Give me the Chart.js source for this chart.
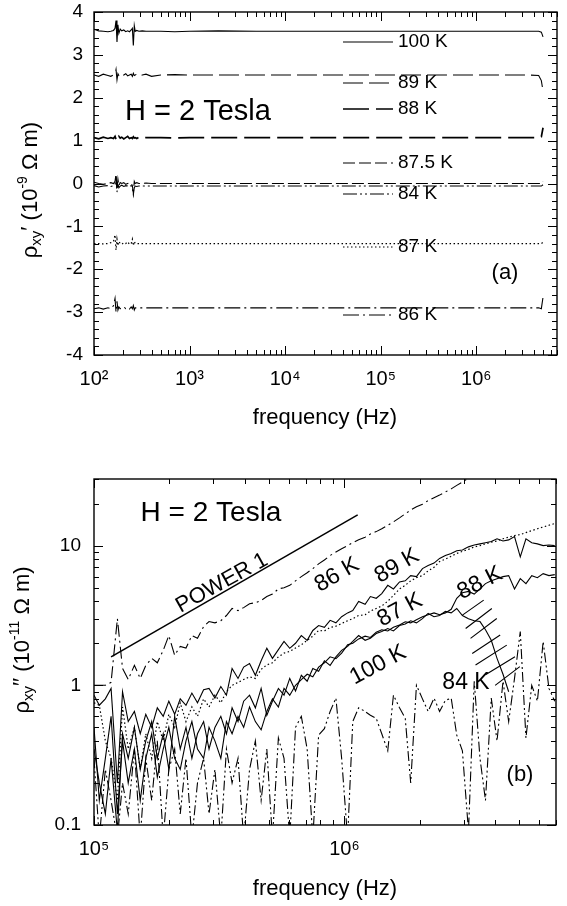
<!DOCTYPE html>
<html><head><meta charset="utf-8">
<script src="https://cdn.jsdelivr.net/npm/chart.js@4.4.1/dist/chart.umd.min.js"></script>
<style>
html,body{margin:0;padding:0;background:#fff;}
#wrap{position:relative;width:567px;height:906px;overflow:hidden;}
canvas{position:absolute;left:0;}
</style></head>
<body><div id="wrap">
<canvas id="ca" width="567" height="453" style="top:0"></canvas>
<canvas id="cb" width="567" height="453" style="top:453px"></canvas>
</div>
<script>
// ================= DATA: panel (a)  rho_xy' vs frequency =================
const seriesNamesA = ['100 K','89 K','88 K','87.5 K','84 K','87 K','86 K'];
const freqA = [100,112,125,140,150,160,166,170,174,178,182,188,195,205,215,225,235,245,252,258,
  264,270,280,295,320,350,400,500,700,1000,2000,5000,1e4,3e4,1e5,3e5,1e6,2e6,3.5e6,4.5e6,4.8e6,5.0e6];
const a100 = [3.60,3.56,3.55,3.54,3.55,3.57,3.62,3.80,3.30,3.70,3.50,3.60,3.56,3.58,3.54,3.56,3.54,3.58,3.62,3.22,
  3.68,3.55,3.57,3.55,3.56,3.55,3.55,3.55,3.54,3.55,3.56,3.55,3.55,3.55,3.55,3.55,3.55,3.55,3.55,3.55,3.53,3.42];
const a89 = [2.53,2.50,2.55,2.52,2.50,2.53,2.55,2.66,2.42,2.56,2.52,2.55,2.50,2.53,2.56,2.51,2.53,2.55,2.50,2.57,
  2.52,2.53,2.55,2.51,2.53,2.55,2.50,2.53,2.54,2.53,2.53,2.53,2.53,2.53,2.53,2.53,2.53,2.53,2.53,2.52,2.40,2.15];
const a88 = [1.07,1.04,1.08,1.05,1.07,1.05,1.10,1.03,1.09,1.05,1.10,1.06,1.08,1.04,1.07,1.10,1.05,1.07,1.05,1.09,
  1.06,1.07,1.05,1.08,1.06,1.07,1.07,1.07,1.06,1.07,1.07,1.07,1.07,1.07,1.07,1.07,1.07,1.07,1.07,1.07,1.09,1.30];
const a875 = [0.03,0.00,-0.02,0.00,0.02,0.00,0.05,0.22,-0.15,0.10,-0.05,0.02,0.00,0.02,-0.02,0.00,0.02,0.00,-0.05,-0.22,
  0.05,0.00,0.02,0.00,0.00,0.01,0.00,0.00,0.00,0.00,0.00,0.00,0.00,0.00,0.00,0.00,0.00,0.00,0.00,0.00,0.00,0.05];
const a84 = [-0.05,-0.08,-0.06,-0.05,-0.07,-0.05,-0.02,0.15,-0.20,0.00,-0.10,-0.06,-0.04,-0.07,-0.05,-0.06,-0.08,-0.05,-0.10,-0.26,
  -0.10,-0.06,-0.07,-0.06,-0.06,-0.06,-0.06,-0.06,-0.06,-0.06,-0.06,-0.06,-0.06,-0.06,-0.06,-0.06,-0.06,-0.06,-0.06,-0.06,-0.06,-0.03];
const a87 = [-1.40,-1.40,-1.41,-1.40,-1.38,-1.35,-1.20,-1.55,-1.30,-1.45,-1.35,-1.40,-1.42,-1.38,-1.40,-1.36,-1.42,-1.40,-1.30,-1.45,
  -1.35,-1.40,-1.40,-1.40,-1.40,-1.40,-1.40,-1.40,-1.40,-1.40,-1.40,-1.40,-1.40,-1.40,-1.40,-1.40,-1.40,-1.40,-1.40,-1.40,-1.40,-1.37];
const a86 = [-2.92,-2.90,-2.93,-2.90,-2.92,-2.85,-2.68,-3.00,-2.75,-2.95,-2.88,-2.92,-2.90,-2.88,-2.92,-2.90,-2.93,-2.88,-2.92,-2.85,
  -2.95,-2.90,-2.90,-2.90,-2.90,-2.90,-2.90,-2.90,-2.90,-2.90,-2.90,-2.90,-2.90,-2.90,-2.90,-2.90,-2.90,-2.90,-2.90,-2.90,-2.92,-2.65];
const xTickValsA = [1e2,1e3,1e4,1e5,1e6];
const xTickLabelsA = ['10\u00B2','10\u00B3','10\u2074','10\u2075','10\u2076'];
const yTickValsA = [-4,-3,-2,-1,0,1,2,3,4];
const yTickLabelsA = ['-4','-3','-2','-1','0','1','2','3','4'];

// ================= DATA: panel (b)  rho_xy'' vs frequency =================
const freqB = [1.00e5,1.05e5,1.11e5,1.17e5,1.24e5,1.30e5,1.37e5,1.45e5,1.53e5,1.61e5,
  1.70e5,1.79e5,1.89e5,1.99e5,2.10e5,2.21e5,2.33e5,2.46e5,2.59e5,2.74e5,
  2.88e5,3.04e5,3.21e5,3.38e5,3.56e5,3.76e5,3.96e5,4.18e5,4.41e5,4.65e5,
  4.90e5,5.16e5,5.45e5,5.74e5,6.05e5,6.38e5,6.73e5,7.10e5,7.48e5,7.89e5,
  8.32e5,8.77e5,9.25e5,9.75e5,1.03e6,1.08e6,1.14e6,1.21e6,1.27e6,1.34e6,
  1.41e6,1.49e6,1.57e6,1.66e6,1.75e6,1.84e6,1.94e6,2.05e6,2.16e6,2.28e6,
  2.40e6,2.53e6,2.67e6,2.81e6,2.96e6,3.13e6,3.30e6,3.48e6,3.66e6,3.86e6,
  4.07e6,4.30e6,4.53e6,4.78e6,5.04e6,5.31e6,5.60e6,5.90e6,6.22e6,6.56e6,6.92e6];
const b86 = [1.00,1.00,1.00,1.05,3.00,1.32,1.10,1.39,1.12,1.39,
  1.56,1.45,1.78,2.27,1.64,1.90,1.85,2.27,2.17,2.63,
  2.86,2.80,2.90,3.16,3.55,3.43,3.60,3.84,3.90,4.05,
  4.32,4.50,4.90,5.00,5.20,5.60,6.00,6.40,6.85,7.40,
  7.90,8.50,9.00,9.50,10.0,10.5,11.0,11.5,12.1,12.6,
  13.2,14.0,14.8,15.8,16.9,18.0,19.0,19.8,21.0,22.0,
  23.0,24.2,25.5,27.0,28.5,30.5,32.0,null,null,null,
  null,null,null,null,null,null,null,null,null,null,null];
const b89 = [0.85,0.72,0.80,0.95,0.20,0.90,0.55,0.65,0.45,0.62,
  0.50,0.69,0.60,0.77,0.62,0.80,0.72,0.88,0.75,0.93,
  0.95,0.81,0.98,0.85,1.32,1.12,1.35,1.43,1.18,1.50,
  1.84,1.56,1.80,2.06,1.84,2.00,2.27,2.10,2.47,2.68,
  2.60,2.92,2.80,3.10,3.30,3.43,3.98,3.80,4.32,4.20,
  4.54,5.20,4.90,5.50,5.60,6.10,6.00,6.85,7.20,7.50,
  8.10,8.50,8.80,9.20,9.30,9.80,10.1,10.3,10.5,10.7,
  11.2,10.8,11.0,11.6,8.30,11.2,10.5,10.3,10.0,10.1,10.0];
const b87 = [0.75,0.72,0.40,0.30,0.15,0.70,0.35,0.50,0.25,0.45,
  0.30,0.55,0.40,0.62,0.50,0.75,0.55,0.70,0.60,0.80,
  0.70,0.85,0.75,0.90,1.00,1.05,1.10,1.15,1.12,1.30,
  1.40,1.45,1.60,1.70,1.75,1.85,1.95,2.10,2.25,2.47,
  2.45,2.60,2.65,2.77,2.90,3.00,3.16,3.20,3.40,3.55,
  3.70,4.00,4.40,4.90,5.20,5.60,5.90,6.10,6.60,7.00,
  7.70,8.00,8.40,8.80,9.10,9.40,9.80,10.0,10.3,10.6,
  10.8,11.2,11.5,11.8,12.0,12.4,12.8,13.2,13.6,14.0,14.4];
const b88 = [0.50,0.15,0.30,0.60,0.12,0.40,0.20,0.35,0.15,0.30,
  0.45,0.22,0.35,0.50,0.30,0.25,0.40,0.55,0.35,0.30,
  0.50,0.40,0.30,0.55,0.45,0.60,0.50,0.70,0.55,0.48,
  0.65,0.80,0.70,0.95,0.85,1.00,1.10,1.20,1.15,1.35,
  1.45,1.60,1.55,1.70,1.95,2.00,2.15,2.25,2.20,2.40,
  2.50,2.45,2.60,2.70,2.85,2.80,2.95,3.10,3.20,3.30,
  3.20,3.30,3.50,4.20,4.60,4.70,4.50,4.90,5.35,5.60,
  5.80,6.00,6.10,4.90,5.80,5.35,6.10,5.90,6.30,6.10,6.20];
const b100 = [0.35,0.20,0.12,0.30,0.09,0.45,0.30,0.50,0.25,0.40,
  0.55,0.30,0.45,0.25,0.60,0.35,0.50,0.30,0.45,0.55,
  0.35,0.50,0.60,0.45,0.69,0.55,0.77,0.85,0.69,0.95,
  0.61,0.77,0.95,0.85,1.12,0.91,1.18,1.07,1.32,1.26,
  1.50,1.39,1.60,1.78,1.90,2.06,2.27,2.10,2.17,2.35,
  2.43,2.55,2.45,2.68,2.75,2.90,2.80,3.00,3.27,3.10,
  3.16,3.38,3.30,3.55,3.16,3.00,2.90,2.86,2.50,2.10,
  1.56,1.20,0.90,null,null,null,null,null,null,null,null];
const b84 = [0.30,0.08,0.25,0.15,0.08,0.20,0.12,0.35,0.08,0.30,
  0.15,0.40,0.08,0.25,0.35,0.12,0.30,0.08,0.20,0.30,
  0.12,0.25,0.08,0.35,0.20,0.30,0.08,0.25,0.40,0.15,
  0.35,0.08,0.42,0.30,0.08,0.50,0.60,0.35,0.08,0.44,
  0.49,0.65,0.81,0.30,0.08,0.55,0.69,0.65,0.61,0.58,
  0.45,0.34,0.85,0.69,0.58,0.20,1.00,0.80,0.65,0.81,
  0.65,0.78,0.81,0.44,0.34,0.09,1.07,0.30,0.15,0.81,
  0.40,1.07,0.55,1.12,2.43,0.42,1.00,0.77,2.06,0.95,0.77];
// guide line with slope 1 ("POWER 1")
const powerF = [1.17e5, 1.13e6];
const powerV = [1.6, 16.6];
// hatch strokes marking the 100 K drop
const hatchF1 = [2.96e6,3.05e6,3.19e6,3.24e6,3.34e6,3.66e6,4.00e6];
const hatchV1 = [3.18,2.55,2.17,1.69,1.40,1.19,1.00];
const hatchF2 = [3.60e6,3.88e6,4.06e6,4.19e6,4.45e6,4.80e6,5.02e6];
const hatchV2 = [4.07,3.55,3.01,2.29,1.94,1.60,1.36];
const xTickValsB = [1e5,1e6];
const xTickLabelsB = ['10\u2075','10\u2076'];
const yTickValsB = [0.1,1,10];
const yTickLabelsB = ['0.1','1','10'];

// ================= helpers =================
const FAM = '"Liberation Sans", Arial, Helvetica, sans-serif';
Chart.defaults.font.family = FAM;
Chart.defaults.color = '#000';

function pts(xs, ys){ return xs.map((x,i)=>({x:x, y:ys[i]})); }
function near(a,b){ return Math.abs(a-b) <= 1e-6*Math.max(1,Math.abs(b)); }
function logTickList(min,max){
  const out=[];
  for(let e=Math.floor(Math.log10(min)); e<=Math.ceil(Math.log10(max)); e++){
    for(let m=1;m<=9;m++){ const v=m*Math.pow(10,e); if(v>=min*0.9999 && v<=max*1.0001) out.push(v); }
  }
  return out;
}
function isPow10(v){ const l=Math.log10(v); return Math.abs(l-Math.round(l))<1e-9; }

function drawRich(ctx, parts, cx, cy, rot, size){
  ctx.save(); ctx.translate(cx,cy); ctx.rotate(rot);
  let w=0;
  parts.forEach(p=>{ ctx.font=(p.s||size)+'px '+FAM; p.w=ctx.measureText(p.t).width; w+=p.w; });
  let x=-w/2; ctx.textBaseline='middle'; ctx.textAlign='left'; ctx.fillStyle='#000';
  parts.forEach(p=>{ ctx.font=(p.s||size)+'px '+FAM; ctx.fillText(p.t,x,p.dy||0); x+=p.w; });
  ctx.restore();
}

function framePlugin(xTicks, xMajor, yTicks, yMajor){
  return { id:'frameTicks', afterDatasetsDraw(chart){
    const ctx=chart.ctx, a=chart.chartArea, x=chart.scales.x, y=chart.scales.y;
    ctx.save(); ctx.strokeStyle='#000';
    ctx.lineWidth=1;
    ctx.beginPath();
    xTicks.forEach(v=>{ const p=Math.round(x.getPixelForValue(v))+0.5; const L=xMajor(v)?9:5;
      ctx.moveTo(p,a.bottom); ctx.lineTo(p,a.bottom-L); ctx.moveTo(p,a.top); ctx.lineTo(p,a.top+L); });
    yTicks.forEach(v=>{ const p=Math.round(y.getPixelForValue(v))+0.5; const L=yMajor(v)?9:5;
      ctx.moveTo(a.left,p); ctx.lineTo(a.left+L,p); ctx.moveTo(a.right,p); ctx.lineTo(a.right-L,p); });
    ctx.stroke();
    ctx.lineWidth=1.4;
    ctx.strokeRect(a.left,a.top,a.right-a.left,a.bottom-a.top);
    ctx.restore();
  }};
}
function textPlugin(items, riches){
  return { id:'texts', afterDraw(chart){
    const ctx=chart.ctx;
    ctx.save(); ctx.fillStyle='#000';
    items.forEach(it=>{
      ctx.save(); ctx.translate(it.x,it.y); ctx.rotate((it.rot||0)*Math.PI/180);
      ctx.font=it.size+'px '+FAM; ctx.textAlign='center'; ctx.textBaseline='middle';
      ctx.fillText(it.t,0,0); ctx.restore();
    });
    riches.forEach(r=>drawRich(ctx,r.parts,r.x,r.y,r.rot,r.size));
    ctx.restore();
  }};
}
function legendPlugin(entries){
  return { id:'legendA', afterDraw(chart){
    const ctx=chart.ctx;
    ctx.save();
    entries.forEach(e=>{
      const ds=chart.data.datasets[e.ds];
      ctx.strokeStyle='#000'; ctx.lineWidth=ds.borderWidth; ctx.setLineDash(ds.borderDash||[]);
      ctx.beginPath(); ctx.moveTo(343,e.y); ctx.lineTo(393,e.y); ctx.stroke();
      ctx.setLineDash([]);
      ctx.font='19px '+FAM; ctx.textAlign='left'; ctx.textBaseline='middle'; ctx.fillStyle='#000';
      ctx.fillText(ds.label,398,e.y);
    });
    ctx.restore();
  }};
}

function lineDs(label, data, dash, width){
  return { label:label, data:data, borderColor:'#000', borderWidth:width||1.1, borderDash:dash,
           pointRadius:0, tension:0, fill:false, spanGaps:false, borderCapStyle:'butt' };
}
function fixY(w){ return function(s){ s.width=w; s.paddingTop=0; s.paddingBottom=0; s.paddingLeft=0; s.paddingRight=0; }; }
function fixX(h){ return function(s){ s.height=h; s.paddingTop=0; s.paddingBottom=0; s.paddingLeft=0; s.paddingRight=0; }; }

// ================= panel (a) =================
const dashA = [[],[20,6],[26,7],[12,4],[14,3,2,3,2,3],[1.5,2.5],[16,4,2,4]];
const widthA = [1.1,1.1,1.7,1.1,1.1,1.2,1.1];
const valsA = [a100,a89,a88,a875,a84,a87,a86];
const xMinA=100, xMaxA=7e6;
const xTicksA = logTickList(xMinA,xMaxA);
const yMinorA = []; for(let k=0;k<=40;k++) yMinorA.push(-4+0.2*k);

new Chart(document.getElementById('ca'), {
  type:'line',
  data:{ datasets: valsA.map((v,i)=>lineDs(seriesNamesA[i], pts(freqA,v), dashA[i], widthA[i])) },
  options:{
    responsive:false, animation:false, devicePixelRatio:1,
    layout:{ padding:{left:0,right:10,top:12,bottom:0} },
    plugins:{ legend:{display:false}, tooltip:{enabled:false} },
    scales:{
      x:{ type:'logarithmic', min:xMinA, max:xMaxA,
          grid:{display:false, drawTicks:false}, border:{display:false},
          afterBuildTicks(s){ s.ticks = xTicksA.map(v=>({value:v})); },
          afterFit: fixX(98),
          ticks:{ autoSkip:false, maxRotation:0, minRotation:0, padding:12, font:{size:20},
            callback(v){ const i=xTickValsA.findIndex(t=>near(t,v)); return i>=0?xTickLabelsA[i]:''; } } },
      y:{ type:'linear', min:-4, max:4,
          grid:{display:false, drawTicks:false}, border:{display:false},
          afterBuildTicks(s){ s.ticks = yTickValsA.map(v=>({value:v})); },
          afterFit: fixY(94),
          ticks:{ padding:11, font:{size:19},
            callback(v){ const i=yTickValsA.findIndex(t=>near(t,v)); return i>=0?yTickLabelsA[i]:''; } } }
    }
  },
  plugins:[
    framePlugin(xTicksA, isPow10, yMinorA, v=>Math.abs(v-Math.round(v))<1e-6),
    legendPlugin([{ds:0,y:42},{ds:1,y:83},{ds:2,y:109},{ds:3,y:163},{ds:4,y:194},{ds:5,y:247},{ds:6,y:315}]),
    textPlugin(
      [ {t:'H = 2 Tesla', x:198, y:112, size:29},
        {t:'(a)', x:505, y:273, size:22},
        {t:'frequency (Hz)', x:325, y:418, size:22} ],
      [ {x:31, y:190, rot:-Math.PI/2, size:22, parts:[
          {t:'\u03C1'},{t:'xy',s:15,dy:6},{t:'\u2032',dy:-1},{t:' (10'},{t:'-9',s:14,dy:-8},{t:' \u03A9 m)'} ]} ]
    )
  ]
});

// ================= panel (b) =================
const seriesNamesB = ['86 K','89 K','87 K','88 K','100 K','84 K'];
const valsB = [b86,b89,b87,b88,b100,b84];
const dashB = [[12,4,2,4],[],[1.5,2.5],[],[],[10,3,2,3,2,3]];
const widthB = [1.1,1.1,1.2,1.1,1.1,1.1];
const xMinB=1e5, xMaxB=7e6, yMinB=0.1, yMaxB=30;
const xTicksB = logTickList(xMinB,xMaxB);
const yTicksB = logTickList(yMinB,yMaxB);
const hatchPts = [];
hatchF1.forEach((f,i)=>{ hatchPts.push({x:f,y:hatchV1[i]}); hatchPts.push({x:hatchF2[i],y:hatchV2[i]}); hatchPts.push({x:hatchF2[i],y:null}); });

const dsB = valsB.map((v,i)=>lineDs(seriesNamesB[i], pts(freqB,v), dashB[i], widthB[i]));
dsB.push(lineDs('POWER 1', pts(powerF,powerV), [], 1.5));
dsB.push(lineDs('hatch', hatchPts, [], 1.1));

new Chart(document.getElementById('cb'), {
  type:'line',
  data:{ datasets: dsB },
  options:{
    responsive:false, animation:false, devicePixelRatio:1,
    layout:{ padding:{left:0,right:11,top:26,bottom:0} },
    plugins:{ legend:{display:false}, tooltip:{enabled:false} },
    scales:{
      x:{ type:'logarithmic', min:xMinB, max:xMaxB,
          grid:{display:false, drawTicks:false}, border:{display:false},
          afterBuildTicks(s){ s.ticks = xTicksB.map(v=>({value:v})); },
          afterFit: fixX(81),
          ticks:{ autoSkip:false, maxRotation:0, minRotation:0, padding:12, font:{size:20},
            callback(v){ const i=xTickValsB.findIndex(t=>near(t,v)); return i>=0?xTickLabelsB[i]:''; } } },
      y:{ type:'logarithmic', min:yMinB, max:yMaxB,
          grid:{display:false, drawTicks:false}, border:{display:false},
          afterBuildTicks(s){ s.ticks = yTicksB.map(v=>({value:v})); },
          afterFit: fixY(94),
          ticks:{ autoSkip:false, padding:13, font:{size:19},
            callback(v){ const i=yTickValsB.findIndex(t=>near(t,v)); return i>=0?yTickLabelsB[i]:''; } } }
    }
  },
  plugins:[
    framePlugin(xTicksB, isPow10, yTicksB, isPow10),
    textPlugin(
      [ {t:'H = 2 Tesla', x:211, y:60, size:28},
        {t:'POWER 1', x:222, y:130, size:22, rot:-29},
        {t:'86 K', x:337, y:122, size:23, rot:-30},
        {t:'89 K', x:397, y:113, size:23, rot:-30},
        {t:'87 K', x:400, y:157, size:23, rot:-28},
        {t:'88 K', x:480, y:130, size:23, rot:-27},
        {t:'100 K', x:378, y:212, size:23, rot:-28},
        {t:'84 K', x:466, y:230, size:23},
        {t:'(b)', x:520, y:322, size:22},
        {t:'frequency (Hz)', x:325, y:436, size:22} ],
      [ {x:23, y:187, rot:-Math.PI/2, size:22, parts:[
          {t:'\u03C1'},{t:'xy',s:15,dy:6},{t:'\u2032\u2032',dy:-1},{t:' (10'},{t:'-11',s:14,dy:-8},{t:' \u03A9 m)'} ]} ]
    )
  ]
});
</script>
</body></html>
